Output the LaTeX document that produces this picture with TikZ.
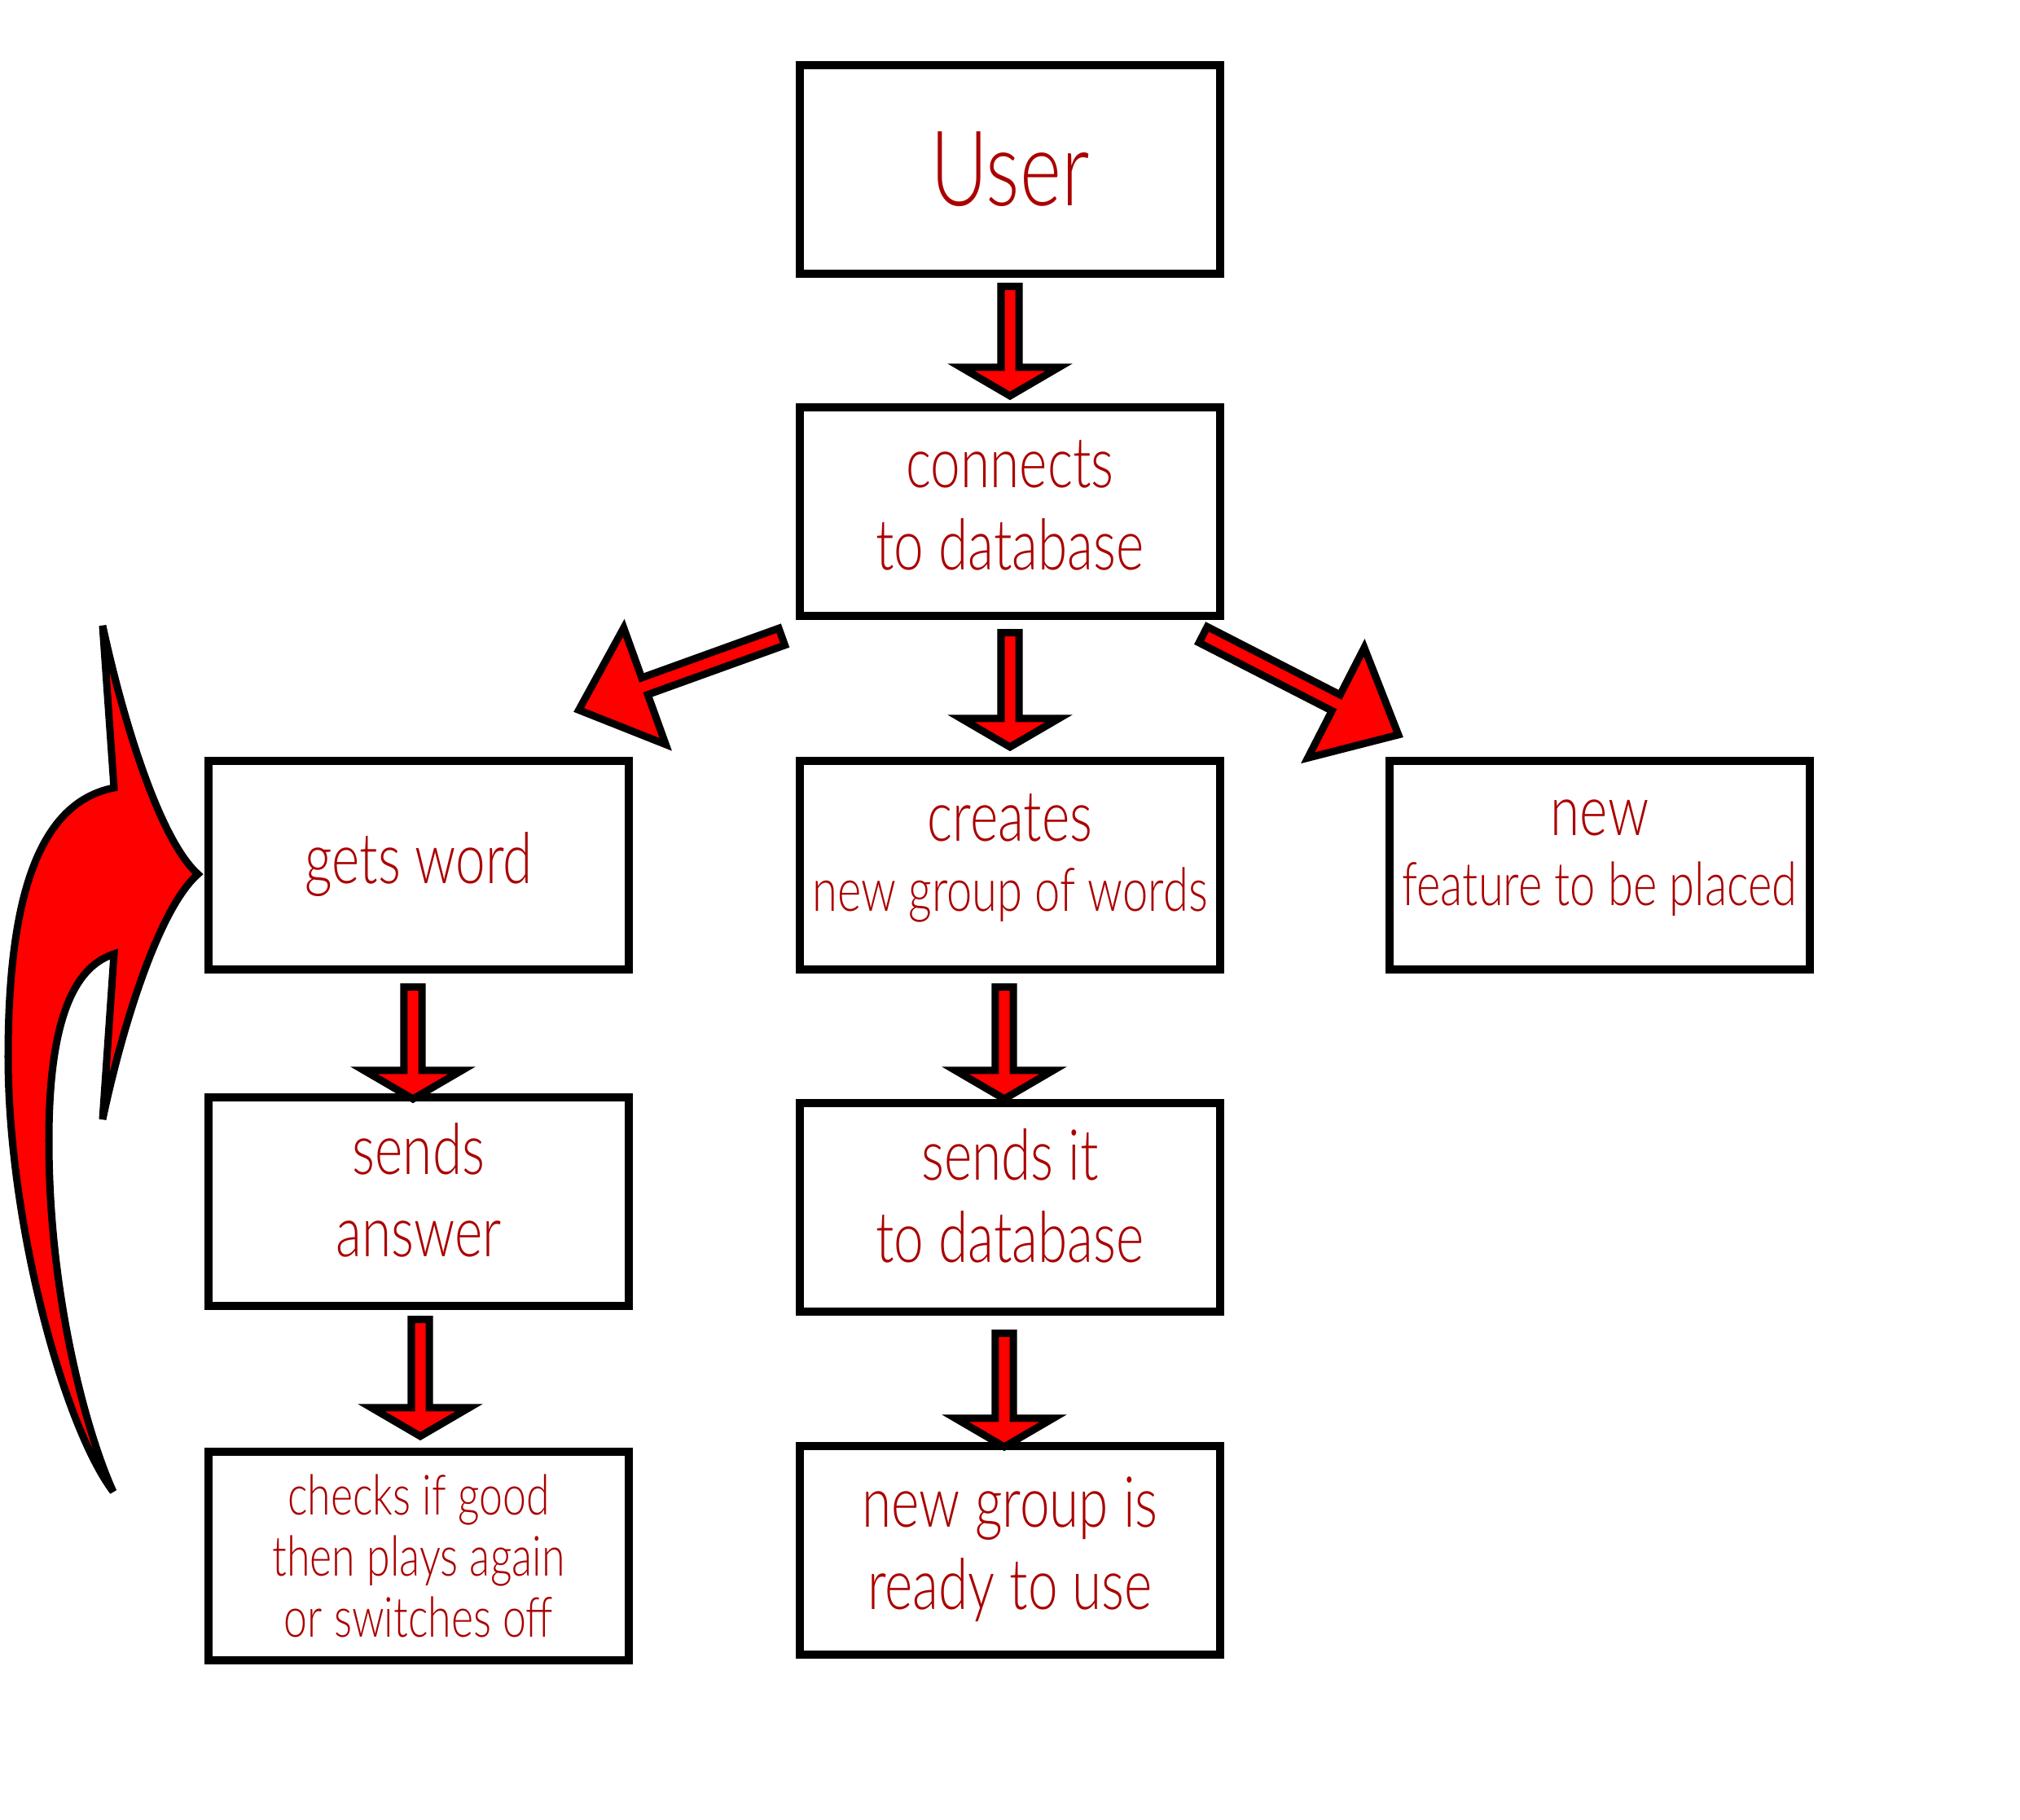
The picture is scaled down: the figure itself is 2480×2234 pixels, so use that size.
\documentclass[tikz,border=0pt]{standalone}
\usepackage{fontspec}
\IfFontExistsTF{Lato Light}{\setmainfont{Lato Light}[FakeStretch=0.76]}{\setmainfont{Lato}[FakeStretch=0.76]}
\usepackage{tikz}
\usetikzlibrary{calc, positioning}
\definecolor{txtred}{RGB}{170,0,0}

\newcommand{\shaftw}{0.11cm}
\newcommand{\midsize}{\fontsize{21pt}{24.8pt}\selectfont}
% block arrow: start, tip, head length, head half width
\newcommand{\fatarrow}[4]{%
  \coordinate (fa) at #1;
  \coordinate (fb) at #2;
  \coordinate (fh) at ($(fb)!#3!(fa)$);
  \draw[fat arrow] ($(fa)!\shaftw!90:(fb)$) -- ($(fh)!\shaftw!90:(fb)$) -- ($(fh)!#4!90:(fb)$) -- (fb)
    -- ($(fh)!#4!-90:(fb)$) -- ($(fh)!\shaftw!-90:(fb)$) -- ($(fa)!\shaftw!-90:(fb)$) -- cycle;}

\begin{document}
\begin{tikzpicture}[x=0.01cm,y=-0.01cm,line join=miter,
	box/.style={draw,line width=0.1cm,minimum width=5.15cm,minimum height=2.56cm,inner sep=0pt,outer sep=0pt,align=center,text=txtred},
	fat arrow/.style={draw=black,fill=red,line width=0.09cm}]
	\tikzset{big/.style={font=\fontsize{24.6pt}{28.7pt}\selectfont,text depth=0.17cm},
		mid/.style={font=\fontsize{24.6pt}{28.7pt}\selectfont,text depth=0.31cm},
		small/.style={font=\fontsize{19.4pt}{21.3pt}\selectfont}}
	\useasboundingbox (0,0) rectangle (2480,2234);

	\node[box, font=\fontsize{36.5pt}{40pt}\selectfont] (0) at (1240,208) {User};
	\node[box, big] (1) at (1240,628) {connects\\ to database};
	\node[box, big] (2) at (514,1062) {gets word};
	\node[box, mid] (3) at (1240,1062) {creates\\[-0.15cm] {\midsize new group of words}};
	\node[box, mid] (4) at (1964,1062) {new\\[-0.15cm] {\midsize feature to be placed}};
	\node[box, big, text depth=0.28cm] (5) at (514,1475) {sends\\ answer};
	\node[box, big, text depth=0.29cm] (6) at (1240,1482) {sends it\\ to database};
	\node[box, small] (7) at (514,1910) {checks if good\\ then plays again\\ or switches off};
	\node[box, big] (8) at (1240,1903) {new group is\\ ready to use};

	\fatarrow{([yshift=-0.155cm]0.south)}{([yshift=0.14cm]1.north)}{0.35cm}{0.6cm}
	\fatarrow{([yshift=-0.205cm]1.south)}{([yshift=0.17cm]3.north)}{0.35cm}{0.6cm}
	\fatarrow{([xshift=-0.225cm,yshift=-0.255cm]1.south west)}{([xshift=-0.61cm,yshift=0.624cm]2.north east)}{0.86cm}{0.76cm}
	\fatarrow{([xshift=-0.205cm,yshift=-0.23cm]1.south east)}{([xshift=0.105cm,yshift=0.32cm]4.north west)}{0.86cm}{0.76cm}
	\fatarrow{([xshift=-0.07cm,yshift=-0.215cm]2.south)}{([xshift=-0.07cm,yshift=-0.02cm]5.north)}{0.35cm}{0.6cm}
	\fatarrow{([xshift=0.02cm,yshift=-0.165cm]5.south)}{([xshift=0.02cm,yshift=0.19cm]7.north)}{0.35cm}{0.6cm}
	\fatarrow{([xshift=-0.07cm,yshift=-0.215cm]3.south)}{([xshift=-0.07cm,yshift=0.05cm]6.north)}{0.35cm}{0.6cm}
	\fatarrow{([xshift=-0.07cm,yshift=-0.265cm]6.south)}{([xshift=-0.07cm,yshift=-0.01cm]8.north)}{0.35cm}{0.6cm}

	% loop back to gets word
	\draw[fat arrow, miter limit=5] (243,1073) .. controls (195,1030) and (150,880) .. (126,768) -- (140,967)
		.. controls (48,985) and (10,1100) .. (10,1297) .. controls (10,1500) and (78,1750) .. (139,1831)
		.. controls (110,1768) and (60,1600) .. (60,1400) .. controls (60,1280) and (80,1190) .. (140,1171)
		-- (126,1374) .. controls (150,1260) and (195,1115) .. (243,1073) -- cycle;
\end{tikzpicture}
\end{document}
